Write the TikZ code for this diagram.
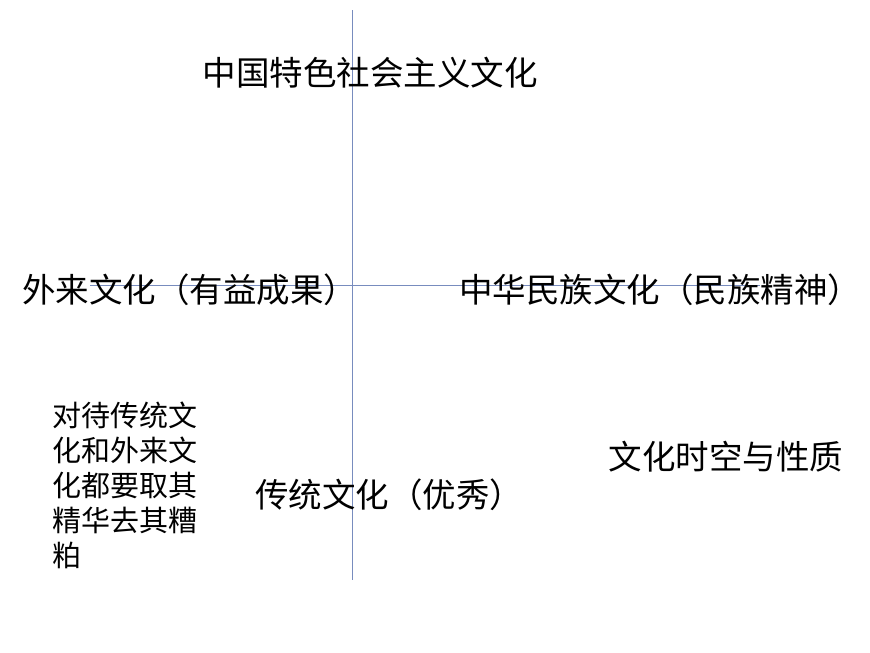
\documentclass[tikz,border=0pt]{standalone}
\usepackage{fontspec}
\newfontfamily\cjk{Noto Sans CJK SC}
\begin{document}
\begin{tikzpicture}[x=1pt,y=-1pt,every node/.style={font=\cjk,inner sep=0pt},
 big/.style={font=\cjk\fontsize{33.5}{38}\selectfont},
 ax/.style={draw={rgb,255:red,120;green,140;blue,190},line width=1pt}]
\useasboundingbox (0,0) rectangle (870,653);
\coordinate (vt) at (352,10); \coordinate (vb) at (352,580);
\coordinate (hl) at (90,285); \coordinate (hr) at (760,285);
\draw[ax] (vt) -- (vb);
\draw[ax] (hl) -- (hr);
\node[big] (t) at (370,73) {中国特色社会主义文化};
\node[big] (l) at (190,290) {外来文化（有益成果）};
\node[big] (r) at (660,290) {中华民族文化（民族精神）};
\node[big] (b) at (389,495) {传统文化（优秀）};
\node[big] (s) at (726,457) {文化时空与性质};
\node[font=\cjk\fontsize{29}{35}\selectfont,align=left,anchor=north west] (n) at (52,402) {对待传统文\\化和外来文\\化都要取其\\精华去其糟\\粕};
\end{tikzpicture}
\end{document}
